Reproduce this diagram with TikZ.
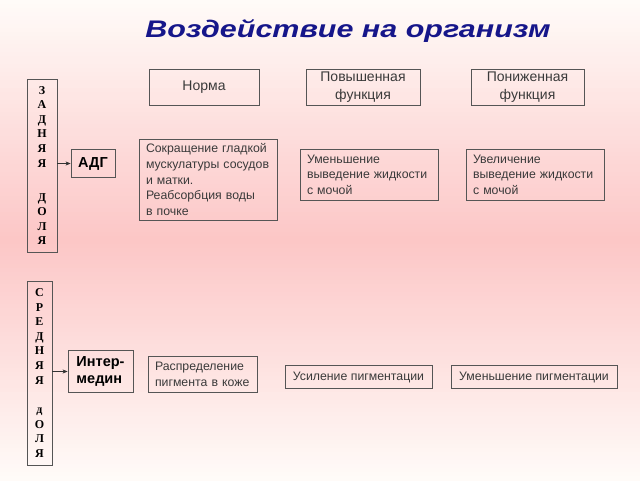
\documentclass[tikz,border=0pt]{standalone}
\usepackage{fontspec}
\setmainfont{Liberation Sans}
\newfontfamily\lobefont{Liberation Serif}
\usetikzlibrary{arrows.meta}
\definecolor{titleblue}{HTML}{16168A}
\definecolor{boxgray}{HTML}{555555}
\definecolor{textgray}{HTML}{3A3A3A}
\definecolor{pinkedge}{HTML}{FFFBF8}
\definecolor{pinkmid}{HTML}{FCC6C6}
\begin{document}
\begin{tikzpicture}[
	x=1pt, y=-1pt,
	>={Stealth[length=5pt,width=4pt]},
	box/.style={draw=boxgray, line width=0.9pt, text=textgray, inner sep=0pt},
        head/.style={box, font=\fontsize{14}{18}\selectfont, align=center},
        note/.style={box, font=\fontsize{12.3}{15.6}\selectfont, align=left, inner xsep=7pt},
	lobe/.style={box, font=\lobefont\bfseries\fontsize{12}{14.6}\selectfont, align=center, text=black},
        hormone/.style={box, font=\bfseries\fontsize{14.5}{17}\selectfont, align=left, text=black}]
   % background bands
   \foreach \row in {0,4,...,476}{
      \pgfmathtruncatemacro\mix{100*(1-abs(\row+2-240)/240)}
      \fill[pinkmid!\mix!pinkedge] (0,\row) rectangle (640,\row+4.5);}
   \useasboundingbox (0,0) rectangle (640,480);
   \node(title)[text=titleblue, xscale=1.27, font=\bfseries\itshape\fontsize{24}{28}\selectfont] at (348,31){Воздействие на организм};
   % column heads
   \node(norma)[head, minimum width=110, minimum height=36] at (204,87){Норма};
   \node(povysh)[head, minimum width=114, minimum height=36] at (363,87.5){Повышенная\\функция};
   \node(ponizh)[head, minimum width=113, minimum height=36] at (527.5,87.5){Пониженная\\функция};
   % posterior lobe
   \node(zadnyaya)[lobe, minimum width=30, minimum height=173] at (42,165.5){З\\А\\Д\\Н\\Я\\Я\\[19.5pt]Д\\О\\Л\\Я};
   \node(adg)[hormone, minimum width=44, minimum height=28] at (93,163.5){АДГ};
   \node(sokr)[note, text width=124, minimum height=81] at (208,179.5){Сокращение гладкой\\мускулатуры сосудов\\и матки.\\Реабсорбция воды\\в почке};
   \node(umen)[note, text width=124, minimum height=51] at (369,174.5){Уменьшение\\выведение жидкости\\с мочой};
   \node(uvel)[note, text width=124, minimum height=51] at (535,174.5){Увеличение\\выведение жидкости\\с мочой};
   % intermediate lobe
   \node(srednyaya)[lobe, minimum width=25, minimum height=184] at (39.5,373){С\\Р\\Е\\Д\\Н\\Я\\Я\\[15pt]д\\О\\Л\\Я};
   \node(intermedin)[hormone, minimum width=65, minimum height=42, inner xsep=6pt] at (100.5,371.5){Интер-\\медин};
   \node(raspr)[note, text width=95, minimum height=36] at (202.5,374.5){Распределение\\пигмента в коже};
   \node(usil)[note, minimum width=147, minimum height=23, align=center] at (358.5,377){Усиление пигментации};
   \node(umenpig)[note, minimum width=166, minimum height=23, align=center] at (534,377){Уменьшение пигментации};
   \draw[->, black!80] (zadnyaya.east |- adg.west) -- (adg.west);
   \draw[->, black!80] (srednyaya.east |- intermedin.west) -- (intermedin.west);
\end{tikzpicture}
\end{document}
